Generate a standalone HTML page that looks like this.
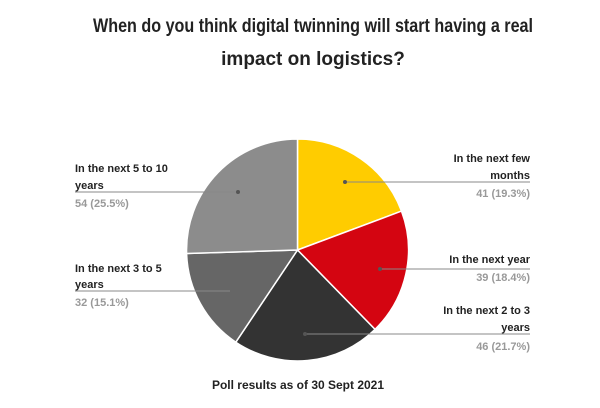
<!DOCTYPE html>
<html><head><style>
body{margin:0;background:#fff;}
svg{display:block;font-family:"Liberation Sans",Arial,sans-serif;}
</style></head><body>
<svg width="600" height="408" viewBox="0 0 600 408">
<text x="313" y="32" text-anchor="middle" font-size="19" font-weight="bold" fill="#222" textLength="440" lengthAdjust="spacingAndGlyphs">When do you think digital twinning will start having a real</text>
<text x="313" y="65" text-anchor="middle" font-size="19" font-weight="bold" fill="#222">impact on logistics?</text>
<g stroke="#fff" stroke-width="1.5">
<path d="M297.5,250 L297.5,139 A111,111 0 0 1 401.5,211.1 Z" fill="#ffcc00"/>
<path d="M297.5,250 L401.5,211.1 A111,111 0 0 1 375,329.4 Z" fill="#d40511"/>
<path d="M297.5,250 L375,329.4 A111,111 0 0 1 235.8,342.2 Z" fill="#333333"/>
<path d="M297.5,250 L235.8,342.2 A111,111 0 0 1 186.6,253.5 Z" fill="#666666"/>
<path d="M297.5,250 L186.6,253.5 A111,111 0 0 1 297.5,139 Z" fill="#8c8c8c"/>
</g>
<g stroke="#888" stroke-width="1">
<line x1="345" y1="182" x2="530" y2="182"/>
<line x1="380" y1="269" x2="530" y2="269"/>
<line x1="305" y1="334" x2="530" y2="334"/>
<line x1="238" y1="192" x2="75" y2="192"/>
<line x1="230" y1="291" x2="75" y2="291"/>
</g>
<g fill="#555"><circle cx="345" cy="182" r="2"/><circle cx="380" cy="269" r="2"/><circle cx="305" cy="334" r="2"/><circle cx="238" cy="192" r="2"/></g>
<g font-size="11" font-weight="bold" fill="#222" text-anchor="end">
<text x="530" y="162">In the next few</text>
<text x="530" y="179">months</text>
<text x="530" y="263">In the next year</text>
<text x="530" y="314">In the next 2 to 3</text>
<text x="530" y="331">years</text>
</g>
<g font-size="11" font-weight="bold" fill="#999" text-anchor="end">
<text x="530" y="197">41 (19.3%)</text>
<text x="530" y="281">39 (18.4%)</text>
<text x="530" y="350">46 (21.7%)</text>
</g>
<g font-size="11" font-weight="bold" fill="#222">
<text x="75" y="172">In the next 5 to 10</text>
<text x="75" y="189">years</text>
<text x="75" y="272">In the next 3 to 5</text>
<text x="75" y="288">years</text>
</g>
<g font-size="11" font-weight="bold" fill="#999">
<text x="75" y="207">54 (25.5%)</text>
<text x="75" y="306">32 (15.1%)</text>
</g>
<text x="298" y="389" text-anchor="middle" font-size="12" font-weight="bold" fill="#222">Poll results as of 30 Sept 2021</text>
</svg>
</body></html>
